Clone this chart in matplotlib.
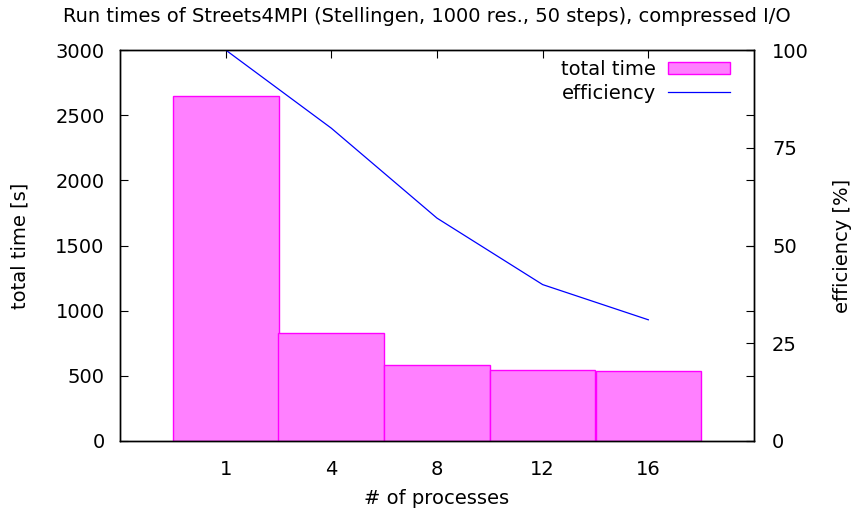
import numpy as np
import matplotlib
matplotlib.use('Agg')
import matplotlib.pyplot as plt

## data
procs = ['1', '4', '8', '12', '16']
total_time = [2645, 826, 581, 542, 535]   # seconds
efficiency = [100, 80, 57, 40, 31]        # percent

plt.rcParams['font.family'] = 'DejaVu Sans'
plt.rcParams['font.size'] = 14

fig = plt.figure(figsize=(8.54, 5.14), dpi=100)
ax = fig.add_axes([120/854, 1-441/514, 634/854, 391/514])
ax2 = ax.twinx()

x = np.arange(len(procs))
ax.set_axisbelow(True)
ax.bar(x, total_time, width=1.0, color='#ff80ff', edgecolor='#ff00ff',
       linewidth=1, label='total time', zorder=2)
ax.set_xlim([-1, 5])
ax.set_ylim([0, 3000])
ax.set_yticks(np.arange(0, 3001, 500))
ax.set_xticks(x)
ax.set_xticklabels(procs)
ax.tick_params(direction='in', length=6, top=True, right=True)
ax.tick_params(axis='y', pad=11)
ax.tick_params(axis='x', pad=13.5)

ax.set_xlabel('# of processes', va='center')
ax.xaxis.set_label_coords(0.5, (441-498)/391)
ax.set_ylabel('total time [s]', va='center')
ax.yaxis.set_label_coords((20-120)/634, 0.5)

line, = ax2.plot(x, efficiency, color='#0000ff', linewidth=0.9, label='efficiency')
ax2.set_ylim([0, 100])
ax2.set_yticks([0, 25, 50, 75, 100])
ax2.tick_params(direction='in', length=6, pad=13)
ax2.set_ylabel('efficiency [%]', va='center')
ax2.yaxis.set_label_coords((843-120)/634, 0.5)

for a in (ax, ax2):
    for s in a.spines.values():
        s.set_linewidth(1)

handles = [ax.patches[0], line]
leg = ax2.legend(handles, ['total time', 'efficiency'], loc='upper right',
                 bbox_to_anchor=(1-24/634, 1-10/391),
                 markerfirst=False, frameon=False, handlelength=3.2,
                 handleheight=0.55, handletextpad=0.6, borderpad=0,
                 borderaxespad=0, labelspacing=0.24)

fig.text(0.5, 1-16/514,
         'Run times of Streets4MPI (Stellingen, 1000 res., 50 steps), compressed I/O',
         ha='center', va='center', fontsize=14)

plt.savefig('out.png', dpi=100)
